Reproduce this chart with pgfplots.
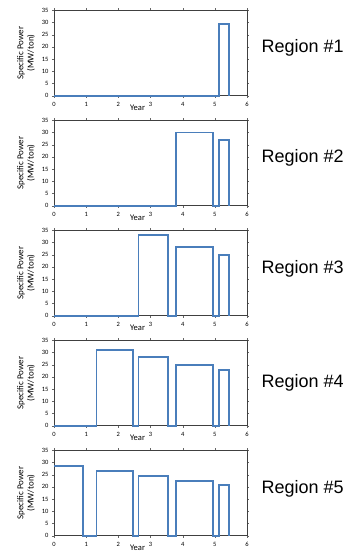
\documentclass[border=0pt]{standalone}
\usepackage{pgfplots}
\pgfplotsset{compat=1.18}
\usepackage{fontspec}
\setmainfont{Carlito}
\newfontfamily\arialfont{Liberation Sans}
\definecolor{lineblue}{RGB}{74,126,187}
\tikzset{region/.style={anchor=west, font=\arialfont\fontsize{18}{20}\selectfont},
  pw/.style={lineblue, line width=1.8pt, line join=miter, mark=none},
  frame/.style={black!75, line width=0.6pt}}
\pgfplotsset{panel/.style={anchor=south west, scale only axis, width=193pt, height=85.4pt,
  xmin=0,xmax=6,ymin=0,ymax=35, xtick={0,...,6}, ytick={0,5,...,35},
  tick align=outside, major tick length=2pt, tick style={black!60},
  axis line style={draw=none},
  tick label style={font=\fontsize{6.5}{7}\selectfont},
  /pgf/number format/assume math mode=true,
  xticklabel style={yshift=-1pt},
  xlabel={Year},
  every axis x label/.style={at={(axis description cs:0.433,-0.142)}, anchor=center, font=\fontsize{8.5}{9}\selectfont},
  ylabel={Specific Power\\(MW/ton)},
  every axis y label/.style={at={(axis description cs:-0.145,0.5)}, rotate=90, anchor=center, align=center, font=\fontsize{9}{10.3}\selectfont},
  clip=false}}
\begin{document}
\begin{tikzpicture}
\useasboundingbox (0pt,0pt) rectangle (357pt,552pt);
\begin{axis}[panel, at={(54pt,456.3pt)}]
\draw[frame] (rel axis cs:0,0) rectangle (rel axis cs:1,1);
\addplot[pw] coordinates {(0,0)(5.12,0)(5.12,29.3)(5.43,29.3)(5.43,0)};
\node[region] at (rel axis cs:1.057,0.56) {Region \#1};
\end{axis}
\begin{axis}[panel, at={(54pt,346.3pt)}]
\draw[frame] (rel axis cs:0,0) rectangle (rel axis cs:1,1);
\addplot[pw] coordinates {(0,0)(3.79,0)(3.79,30)(4.95,30)(4.95,0)(5.12,0)(5.12,27)(5.43,27)(5.43,0)};
\node[region] at (rel axis cs:1.057,0.56) {Region \#2};
\end{axis}
\begin{axis}[panel, at={(54pt,236.3pt)}]
\draw[frame] (rel axis cs:0,0) rectangle (rel axis cs:1,1);
\addplot[pw] coordinates {(0,0)(2.63,0)(2.63,33.1)(3.54,33.1)(3.54,0)(3.79,0)(3.79,28.3)(4.95,28.3)(4.95,0)(5.12,0)(5.12,25)(5.43,25)(5.43,0)};
\node[region] at (rel axis cs:1.057,0.55) {Region \#3};
\end{axis}
\begin{axis}[panel, at={(54pt,126.3pt)}]
\draw[frame] (rel axis cs:0,0) rectangle (rel axis cs:1,1);
\addplot[pw] coordinates {(0,0)(1.32,0)(1.32,31)(2.45,31)(2.45,0)(2.63,0)(2.63,28)(3.54,28)(3.54,0)(3.79,0)(3.79,25)(4.95,25)(4.95,0)(5.12,0)(5.12,22.8)(5.43,22.8)(5.43,0)};
\node[region] at (rel axis cs:1.057,0.5) {Region \#4};
\end{axis}
\begin{axis}[panel, at={(54pt,16.3pt)}]
\draw[frame] (rel axis cs:0,0) rectangle (rel axis cs:1,1);
\addplot[pw] coordinates {(0,28.7)(0.91,28.7)(0.91,0)(1.32,0)(1.32,26.6)(2.45,26.6)(2.45,0)(2.63,0)(2.63,24.6)(3.54,24.6)(3.54,0)(3.79,0)(3.79,22.5)(4.95,22.5)(4.95,0)(5.12,0)(5.12,20.9)(5.43,20.9)(5.43,0)};
\node[region] at (rel axis cs:1.057,0.55) {Region \#5};
\end{axis}
\end{tikzpicture}
\end{document}
